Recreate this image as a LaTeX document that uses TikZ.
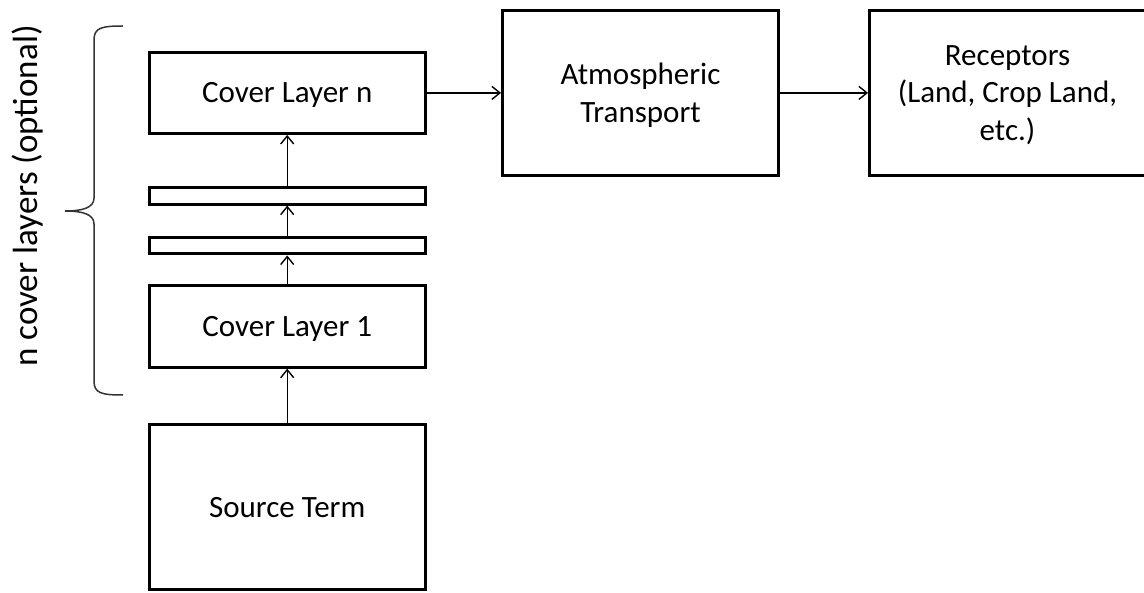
\documentclass[tikz,border=0pt]{standalone}
\usepackage{fontspec}
\setmainfont{Carlito}
\usetikzlibrary{arrows.meta}
\begin{document}
\begin{tikzpicture}[x=1pt,y=-1pt,
  layerbox/.style={draw=black, line width=3pt, minimum width=276pt, inner sep=0pt,
    text depth=0pt, align=center, font=\fontsize{31}{37.7}\selectfont},
  flow/.style={line width=1.4pt, -{Straight Barb[length=8pt,width=13pt,line width=1.4pt]}},
  bracepath/.style={draw=black!80, line width=1.5pt}]
\clip (0,0) rectangle (1144,593);
\useasboundingbox (0,0) rectangle (1144,593);

% stack of cover layers above the source
\node[layerbox, minimum height=81pt] (cn) at (287.2,92.9) {Cover Layer n};
\node[layerbox, minimum height=16.5pt] (l2) at (287.2,195.8) {};
\node[layerbox, minimum height=16.5pt] (l1) at (287.2,245.7) {};
\node[layerbox, minimum height=81.7pt] (c1) at (287.2,326.3) {Cover Layer 1};
\node[layerbox, minimum height=164.4pt] (src) at (287.2,507) {Source Term};

% downstream boxes
\node[layerbox, minimum height=164.7pt] (atm) at (640.5,92.9) {Atmospheric\\Transport};
\node[layerbox, minimum height=164.7pt] (rec) at (1007.5,92.9) {Receptors\\(Land, Crop Land,\\etc.)};

% upward and onward flow
\draw[flow] (src) -- (c1);
\draw[flow] (c1) -- (l1);
\draw[flow] (l1) -- (l2);
\draw[flow] (l2) -- (cn);
\draw[flow] (cn) -- (atm);
\draw[flow] (atm) -- (rec);

% curly brace grouping the cover layers
\path[bracepath] (123,26) .. controls (101,26) and (94,28) .. (94,40)
  -- (94,198) .. controls (94,208) and (82,211) .. (65,211)
  .. controls (82,211) and (94,214) .. (94,224)
  -- (94,381) .. controls (94,393) and (101,395) .. (123,395);
\node[rotate=90, font=\fontsize{35}{40}\selectfont, inner sep=0pt] (lbl) at (28,196) {n cover layers (optional)};
\end{tikzpicture}
\end{document}
